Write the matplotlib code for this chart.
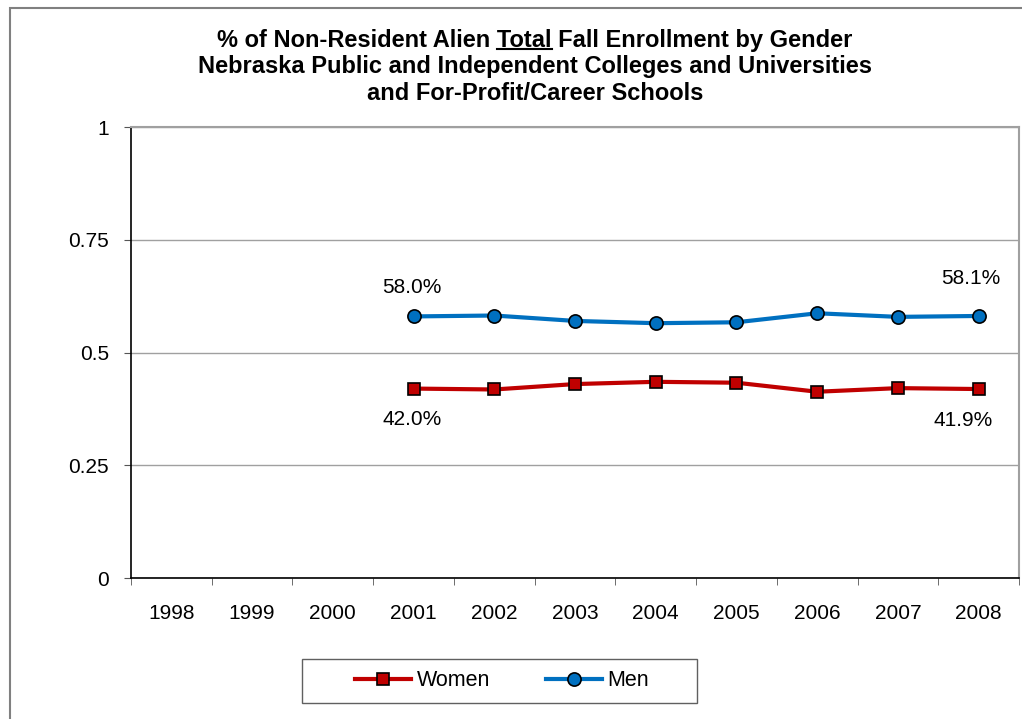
import matplotlib
matplotlib.use("Agg")
import matplotlib.pyplot as plt
from matplotlib.patches import Rectangle
from matplotlib.lines import Line2D
import numpy as np

plt.rcParams["font.family"] = ["Liberation Sans", "DejaVu Sans"]

years = ["1998", "1999", "2000", "2001", "2002", "2003", "2004", "2005", "2006", "2007", "2008"]
# values start at 2001 (index 3)
women = [0.420, 0.418, 0.430, 0.435, 0.433, 0.413, 0.421, 0.419]
men = [0.580, 0.582, 0.570, 0.565, 0.567, 0.587, 0.579, 0.581]
first_idx = 3
yticks = [0, 0.25, 0.5, 0.75, 1]
ytick_labels = ["0", "0.25", "0.5", "0.75", "1"]

W, H = 1022, 719
fig = plt.figure(figsize=(W/100, H/100), dpi=100)
ax = fig.add_axes([131/W, 1 - 578/H, (1019 - 131)/W, (578 - 127)/H])

x = np.arange(first_idx, first_idx + len(men))
ax.plot(x, women, color="#C00000", lw=3, marker="s", ms=8, mfc="#C00000",
        mec="black", mew=1.2, label="Women", zorder=3)
ax.plot(x, men, color="#0070C0", lw=3, marker="o", ms=9.5, mfc="#0070C0",
        mec="black", mew=1.2, label="Men", zorder=3)

# data labels at first and last points
lab_kw = dict(fontsize=15, ha="center", va="center", textcoords="offset points")
ax.annotate(f"{men[0]*100:.1f}%", (x[0], men[0]), xytext=(-1, 21), **lab_kw)
ax.annotate(f"{women[0]*100:.1f}%", (x[0], women[0]), xytext=(-1, -22), **lab_kw)
ax.annotate(f"{men[-1]*100:.1f}%", (x[-1], men[-1]), xytext=(-6, 27), **lab_kw)
ax.annotate(f"{women[-1]*100:.1f}%", (x[-1], women[-1]), xytext=(-11, -23), **lab_kw)

ax.set_xlim(-0.5, len(years) - 0.5)
ax.set_ylim(0, 1)
ax.set_xticks(np.arange(len(years)))
ax.set_xticklabels(years, fontsize=15)
ax.set_xticks(np.arange(len(years) + 1) - 0.5, minor=True)
ax.tick_params(axis="x", which="major", length=0, pad=19)
ax.tick_params(axis="x", which="minor", length=5, direction="out", color="#555555")
ax.set_yticks(yticks)
ax.set_yticklabels(ytick_labels, fontsize=15)
ax.tick_params(axis="y", length=5, direction="out", pad=11, color="#555555")

ax.grid(axis="y", color="#a0a0a0", lw=1)
ax.set_axisbelow(True)
for s in ["left", "bottom"]:
    ax.spines[s].set_color("black")
    ax.spines[s].set_linewidth(1.2)
for s in ["top", "right"]:
    ax.spines[s].set_color("#a0a0a0")
    ax.spines[s].set_linewidth(1.5)

# title, three lines, with "Total" underlined
title_kw = dict(ha="center", va="center", fontsize=17, fontweight="bold")
cx = 535 / W
line1 = "% of Non-Resident Alien Total Fall Enrollment by Gender"
t1 = fig.text(cx, 1 - 40/H, line1, **title_kw)
fig.text(cx, 1 - 67/H, "Nebraska Public and Independent Colleges and Universities", **title_kw)
fig.text(cx, 1 - 94/H, "and For-Profit/Career Schools", **title_kw)

fig.canvas.draw()
r = fig.canvas.get_renderer()
bb = t1.get_window_extent(r)
tmp = fig.text(0, 0, "% of Non-Resident Alien ", fontsize=17, fontweight="bold")
pre_w = tmp.get_window_extent(r).width
tmp.remove()
tmp = fig.text(0, 0, "Total", fontsize=17, fontweight="bold")
tot_w = tmp.get_window_extent(r).width
tmp.remove()
x0 = bb.x0 + pre_w
uy = bb.y0 + 3
fig.lines.append(Line2D([x0 / W, (x0 + tot_w) / W], [uy / H, uy / H],
                        transform=fig.transFigure, color="black", lw=1.5))

leg = fig.legend(loc="center", bbox_to_anchor=(502/W, 1 - 681/H), ncol=2,
                 fontsize=15.5, frameon=False, handlelength=2.6,
                 columnspacing=2.6, handletextpad=0.25)
fig.patches.append(Rectangle((302/W, 1 - 703/H), (697 - 302)/W, 44/H,
                             transform=fig.transFigure, fill=False,
                             edgecolor="#606060", lw=1))

# outer chart border
fig.patches.append(Rectangle((10/W, -0.05), 1.1, 1 - 8/H + 0.05,
                             transform=fig.transFigure, fill=False,
                             edgecolor="#808080", lw=1.5))

fig.savefig("out.png", dpi=100)
